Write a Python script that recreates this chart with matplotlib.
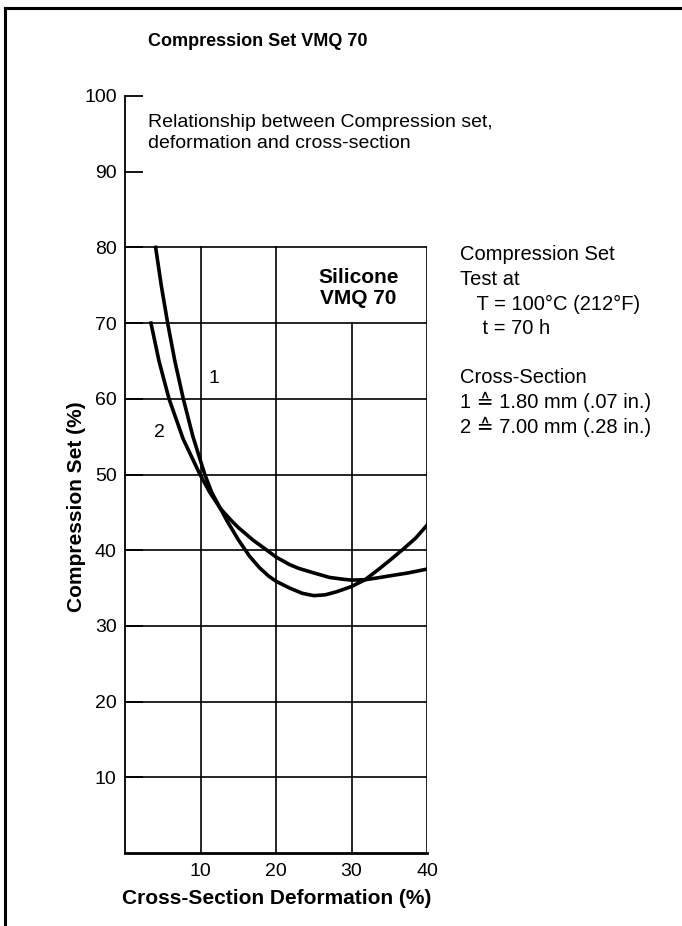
import numpy as np
import matplotlib.pyplot as plt
from matplotlib.lines import Line2D

plt.rcParams['font.family'] = ['Liberation Sans', 'DejaVu Sans']

# curve 1: cross-section 1.80 mm
def1 = [4.06, 4.8, 5.65, 6.6, 7.72, 9.0, 10.57, 11.5, 12.64, 13.5, 15.0, 16.5, 17.8,
        19.0, 20.0, 21.8, 23.5, 25.0, 26.5, 28.0, 30.0, 31.8, 33.5, 35.0, 36.8, 38.5, 40.0]
set1 = [80.0, 75.0, 70.0, 65.0, 60.0, 55.0, 50.0, 47.6, 45.5, 43.9, 41.4, 39.2, 37.7,
        36.6, 35.9, 35.0, 34.3, 34.0, 34.1, 34.5, 35.2, 36.1, 37.4, 38.6, 40.1, 41.6, 43.3]

# curve 2: cross-section 7.00 mm
def2 = [3.44, 4.5, 5.83, 7.7, 9.93, 11.2, 12.64, 14.0, 15.0, 17.0, 18.8, 20.0, 21.8,
        23.0, 25.0, 27.1, 29.0, 30.0, 31.8, 33.5, 35.0, 37.5, 40.0]
set2 = [70.0, 65.0, 60.0, 54.7, 50.0, 47.7, 45.5, 44.0, 43.0, 41.3, 40.0, 39.1, 38.1,
        37.6, 37.0, 36.4, 36.15, 36.05, 36.1, 36.35, 36.6, 37.0, 37.5]

x_ticks = [10, 20, 30, 40]
y_ticks = [10, 20, 30, 40, 50, 60, 70, 80, 90, 100]

legend_lines = ['Compression Set', 'Test at', '   T = 100°C (212°F)', '    t = 70 h', '',
                'Cross-Section', '1 ≙ 1.80 mm (.07 in.)', '2 ≙ 7.00 mm (.28 in.)']

fig = plt.figure(figsize=(6.82, 9.26), dpi=100)
W, H = 682, 926

ax = fig.add_axes([125 / W, 1 - 853 / H, 302 / W, 757 / H])
ax.set_xlim(0, 40)
ax.set_ylim(0, 100)

# grid (only up to 80, box for the material label cuts the 30 line)
for y in range(10, 90, 10):
    ax.plot([0, 40], [y, y], color='black', lw=1.2, zorder=1)
for x in x_ticks:
    top = 70 if x == 30 else 80
    ax.plot([x, x], [0, top], color='black', lw=1.2, zorder=1)

ax.plot(def1, set1, color='black', lw=2.6, solid_joinstyle='round', zorder=3)
ax.plot(def2, set2, color='black', lw=2.6, solid_joinstyle='round', zorder=3)

for s in ['top', 'right']:
    ax.spines[s].set_visible(False)
ax.spines['left'].set_linewidth(1.3)
ax.spines['bottom'].set_linewidth(2.0)

ax.set_yticks(y_ticks)
ax.set_xticks(x_ticks)
ax.tick_params(axis='y', direction='in', length=13, width=1.3, pad=6, labelsize=14)
ax.tick_params(axis='x', length=0, pad=7, labelsize=14)

ax.text(11.8, 62.7, '1', fontsize=14, ha='center', va='center')
ax.text(4.5, 55.6, '2', fontsize=14, ha='center', va='center')
ax.text(30.9, 74.65, 'Silicone\nVMQ 70', fontsize=15, fontweight='bold',
        ha='center', va='center', linespacing=1.1)

fig.text(148 / W, 1 - 42 / H, 'Compression Set VMQ 70', fontsize=13,
         fontweight='bold', va='center')
fig.text(148 / W, 1 - 133 / H, 'Relationship between Compression set,\ndeformation and cross-section',
         fontsize=14, va='center', linespacing=1.3)

for i, line in enumerate(legend_lines):
    fig.text(460 / W, 1 - (255 + 24.5 * i) / H, line, fontsize=14.5, va='center')

fig.text(76 / W, 1 - 507 / H, 'Compression Set (%)', fontsize=15, fontweight='bold',
         rotation=90, ha='center', va='center')
fig.text(277 / W, 1 - 898 / H, 'Cross-Section Deformation (%)', fontsize=15,
         fontweight='bold', ha='center', va='center')

# page frame
fig.add_artist(Line2D([5 / W, 5 / W], [0, 1 - 8 / H], color='black', lw=2.2))
fig.add_artist(Line2D([5 / W, 1], [1 - 8 / H, 1 - 8 / H], color='black', lw=2.2))

fig.savefig('out.png', dpi=100)
